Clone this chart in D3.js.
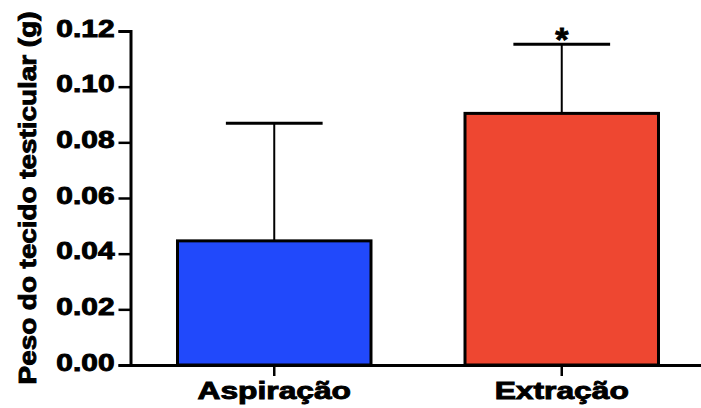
<!DOCTYPE html>
<html>
<head>
<meta charset="utf-8">
<script src="https://cdn.jsdelivr.net/npm/d3@7"></script>
<style>
  html, body { margin: 0; padding: 0; background: #fff; }
  svg { display: block; }
  text { font-family: "Liberation Sans", Arial, sans-serif; font-weight: bold; fill: #000; }
</style>
</head>
<body>
<svg id="chart" width="701" height="408"></svg>
<script>
// Testicular tissue weight (g) by collection method: mean with upper SD bar
const categories = ["Aspiração", "Extração"];
const means = [0.0446, 0.0904];
const errors = [0.0423, 0.0248];
const significance = ["", "*"];
const yTicks = [0.00, 0.02, 0.04, 0.06, 0.08, 0.10, 0.12];
const yTitle = "Peso do tecido testicular (g)";

const barColors = ["#2149fb", "#ee4731"];
const fontSize = 23;

const svg = d3.select("#chart");

const y = d3.scaleLinear().domain([0, 0.12]).range([365, 31]);
const x = d3.scaleBand()
  .domain(categories)
  .range([130.5, 705.5])
  .paddingInner(0.327)
  .paddingOuter(0.1635);

const rows = categories.map((c, i) => ({ cat: c, mean: means[i], err: errors[i], sig: significance[i], color: barColors[i] }));

// bars
svg.append("g").selectAll("rect")
  .data(rows)
  .join("rect")
  .attr("x", d => x(d.cat))
  .attr("width", x.bandwidth())
  .attr("y", d => y(d.mean))
  .attr("height", d => y(0) - y(d.mean))
  .attr("fill", d => d.color)
  .attr("stroke", "#000")
  .attr("stroke-width", 3);

// upper error bars
const eb = svg.append("g").selectAll("g")
  .data(rows)
  .join("g");
eb.append("line")
  .attr("x1", d => x(d.cat) + x.bandwidth() / 2)
  .attr("x2", d => x(d.cat) + x.bandwidth() / 2)
  .attr("y1", d => y(d.mean))
  .attr("y2", d => y(d.mean + d.err))
  .attr("stroke", "#000")
  .attr("stroke-width", 2);
eb.append("line")
  .attr("x1", d => x(d.cat) + x.bandwidth() * 0.25)
  .attr("x2", d => x(d.cat) + x.bandwidth() * 0.75)
  .attr("y1", d => y(d.mean + d.err))
  .attr("y2", d => y(d.mean + d.err))
  .attr("stroke", "#000")
  .attr("stroke-width", 3);

// significance marker above the error bar
eb.append("text")
  .attr("x", d => x(d.cat) + x.bandwidth() / 2)
  .attr("y", d => y(d.mean + d.err) + 7)
  .attr("text-anchor", "middle")
  .style("font-size", "34px")
  .attr("stroke", "#000")
  .attr("stroke-width", 0.8)
  .text(d => d.sig);

// stretch a text element along its own run
function widen(sel, k) {
  sel.each(function () {
    const len = this.getComputedTextLength();
    d3.select(this).attr("textLength", len * k).attr("lengthAdjust", "spacingAndGlyphs");
  });
}

// y axis
const yAxis = svg.append("g")
  .attr("transform", "translate(130.5,0)")
  .call(d3.axisLeft(y).tickValues(yTicks).tickFormat(d3.format(".2f")).tickSize(12).tickPadding(4));
yAxis.select(".domain").attr("stroke", "#000").attr("stroke-width", 3);
yAxis.selectAll(".tick line").attr("stroke", "#000").attr("stroke-width", 2.5);
yAxis.selectAll(".tick text")
  .attr("dy", 0)
  .attr("y", 5)
  .style("font-size", fontSize + "px")
  .attr("stroke", "#000")
  .attr("stroke-width", 0.9)
  .call(widen, 1.3);

// x axis
const xAxis = svg.append("g")
  .attr("transform", "translate(0,365)")
  .call(d3.axisBottom(x).tickSize(11).tickSizeOuter(0));
xAxis.select(".domain").attr("stroke", "#000").attr("stroke-width", 3);
xAxis.selectAll(".tick line").attr("stroke", "#000").attr("stroke-width", 2.5);
xAxis.selectAll(".tick text")
  .attr("dy", 0)
  .attr("y", 34)
  .style("font-size", fontSize + "px")
  .attr("stroke", "#000")
  .attr("stroke-width", 0.9)
  .call(widen, 1.38);

// y axis title
svg.append("text")
  .attr("transform", "translate(36,198) rotate(-90)")
  .attr("text-anchor", "middle")
  .style("font-size", "24px")
  .attr("stroke", "#000")
  .attr("stroke-width", 0.9)
  .text(yTitle)
  .call(widen, 1.16);
</script>
</body>
</html>
